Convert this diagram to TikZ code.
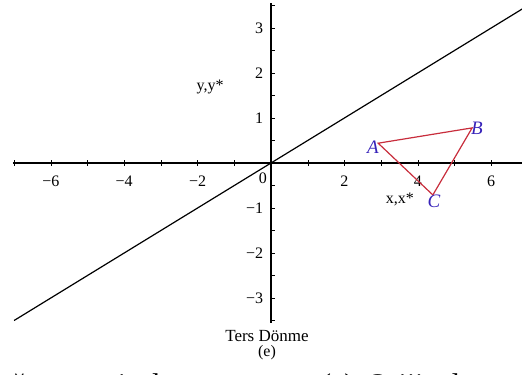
\documentclass[tikz,border=0pt]{standalone}
\usepackage{fontspec}
\setmainfont{Liberation Serif}
\usetikzlibrary{positioning}
\definecolor{triline}{RGB}{200,45,60}
\definecolor{vertexcol}{RGB}{55,35,185}

\begin{document}
\begin{tikzpicture}[x=36.7pt, y=45pt, font=\fontsize{16}{18}\selectfont,
    axis/.style={line width=1.2pt},
    tri/.style={triline, line width=1.2pt},
    vlabel/.style={text=vertexcol, font=\fontsize{19}{21}\selectfont\itshape, inner sep=0pt}]
    \useasboundingbox (-7.384,-4.689) rectangle (6.839,3.622);

    % Axes
    \draw[axis] (-7.03,0) -- (6.84,0);
    \draw[axis] (0,-3.55) -- (0,3.56);
    \foreach \x in {-7,...,6} \draw (\x,-0.06) -- (\x,0.06);
    \foreach \y in {-3.5,-3,...,3.5} \draw (0,\y) -- (0.12,\y);

    % Tick labels
    \foreach \x/\t in {-6/−6,-4/−4,-2/−2,2/2,4/4,6/6}
        \node (tx\x) at (\x,-0.4) {\t};
    \foreach \y/\t in {-3/−3,-2/−2,-1/−1,1/1,2/2,3/3}
        \node[anchor=east] (ty\y) at (-0.12,\y) {\t};
    \node (origin) at (-0.22,-0.33) {0};

    % Axis names
    \node (ylab) at (-1.66,1.69) {y,y*};
    \node (xlab) at (3.51,-0.8) {x,x*};

    % Mirror line
    \draw[axis] (-7,-3.5) -- (7,3.5);

    % Triangle
    \coordinate (pA) at (2.92,0.44);
    \coordinate (pB) at (5.48,0.78);
    \coordinate (pC) at (4.41,-0.71);
    \draw[tri] (pA) -- (pB) -- (pC) -- cycle;
    \node[vlabel] (A) at (2.78,0.36) {A};
    \node[vlabel] (B) at (5.61,0.76) {B};
    \node[vlabel] (C) at (4.44,-0.84) {C};

    % Caption
    \node[font=\fontsize{17}{19}\selectfont] (title) at (-0.11,-3.84) {Ters Dönme};
    \node (sub) [below=-3pt of title] {(e)};

    % Cut-off text of the next line
    \begin{scope}
        \clip (-7.384,-4.689) rectangle (6.839,3.622);
        \begin{scope}[font=\fontsize{30}{32}\selectfont, inner sep=0pt]
            \node[anchor=base] (g1) at (-6.84,-5.15) {ğ};
            \node[anchor=base] (g2) at (-5.53,-5.15) {ö};
            \node[anchor=base] (g3) at (-4.06,-5.15) {i};
            \node[anchor=base] (g4) at (-3.24,-5.15) {d};
            \node[anchor=base west] (cap) at (1.36,-5.15) {(a)\, Orijinal};
        \end{scope}
    \end{scope}
\end{tikzpicture}
\end{document}
